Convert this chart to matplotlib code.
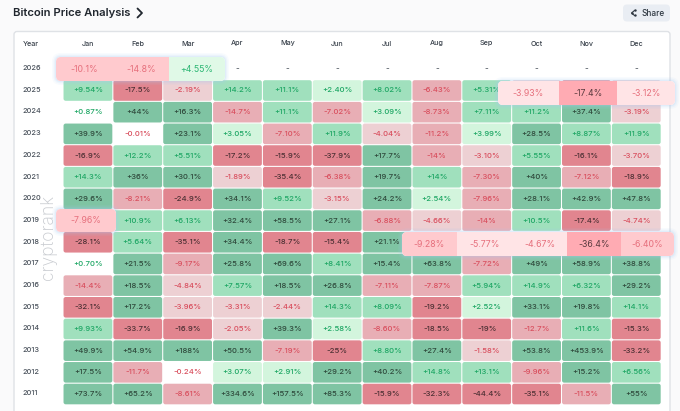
import matplotlib
matplotlib.use("Agg")
import matplotlib.pyplot as plt
from matplotlib.patches import FancyBboxPatch, Rectangle

plt.rcParams["font.family"] = ["Inter", "DejaVu Sans"]

MONTHS = ["Jan", "Feb", "Mar", "Apr", "May", "Jun", "Jul", "Aug", "Sep", "Oct", "Nov", "Dec"]
YEARS = [2026, 2025, 2024, 2023, 2022, 2021, 2020, 2019, 2018, 2017, 2016, 2015, 2014, 2013, 2012, 2011]

R2026 = ["-10.1", "-14.8", "+4.55", None, None, None, None, None, None, None, None, None]
R2025 = ["+9.54", "-17.5", "-2.19", "+14.2", "+11.1", "+2.40", "+8.02", "-6.43", "+5.31", "-3.93", "-17.4", "-3.12"]
R2024 = ["+0.87", "+44", "+16.3", "-14.7", "+11.1", "-7.02", "+3.09", "-8.73", "+7.11", "+11.2", "+37.4", "-3.19"]
R2023 = ["+39.9", "-0.01", "+23.1", "+3.05", "-7.10", "+11.9", "-4.04", "-11.2", "+3.99", "+28.5", "+8.87", "+11.9"]
R2022 = ["-16.9", "+12.2", "+5.51", "-17.2", "-15.9", "-37.9", "+17.7", "-14", "-3.10", "+5.55", "-16.1", "-3.70"]
R2021 = ["+14.3", "+36", "+30.1", "-1.89", "-35.4", "-6.38", "+19.7", "+14", "-7.30", "+40", "-7.12", "-18.9"]
R2020 = ["+29.6", "-8.21", "-24.9", "+34.1", "+9.52", "-3.15", "+24.2", "+2.54", "-7.96", "+28.1", "+42.9", "+47.8"]
R2019 = ["-7.96", "+10.9", "+6.13", "+32.4", "+58.5", "+27.1", "-6.88", "-4.66", "-14", "+10.5", "-17.4", "-4.74"]
R2018 = ["-28.1", "+5.64", "-35.1", "+34.4", "-18.7", "-15.4", "+21.1", "-9.28", "-5.77", "-4.67", "-36.4", "-6.40"]
R2017 = ["+0.70", "+21.5", "-9.17", "+25.8", "+69.6", "+8.41", "+15.4", "+63.8", "-7.72", "+49", "+58.9", "+38.8"]
R2016 = ["-14.4", "+18.5", "-4.84", "+7.57", "+18.5", "+26.8", "-7.11", "-7.87", "+5.94", "+14.9", "+6.32", "+29.2"]
R2015 = ["-32.1", "+17.2", "-3.96", "-3.31", "-2.44", "+14.3", "+8.09", "-19.2", "+2.52", "+33.1", "+19.8", "+14.1"]
R2014 = ["+9.93", "-33.7", "-16.9", "-2.05", "+39.3", "+2.58", "-8.60", "-18.5", "-19", "-12.7", "+11.6", "-15.3"]
R2013 = ["+49.9", "+54.9", "+188", "+50.5", "-7.19", "-25", "+8.80", "+27.4", "-1.58", "+53.8", "+453.9", "-33.2"]
R2012 = ["+17.5", "-11.7", "-0.24", "+3.07", "+2.91", "+29.2", "+40.2", "+14.8", "+13.1", "-9.96", "+15.2", "+6.56"]
R2011 = ["+73.7", "+65.2", "-8.61", "+334.6", "+157.5", "+85.3", "-15.9", "-32.3", "-44.4", "-35.1", "-11.5", "+55"]
ROWS = [R2026, R2025, R2024, R2023, R2022, R2021, R2020, R2019, R2018, R2017, R2016, R2015, R2014, R2013, R2012, R2011]

# enlarged bands: year, first month index, cell edges in x, top, bottom
BANDS = [
    (2026, 0, [56, 113, 169, 225], 57, 81),
    (2025, 9, [498, 559, 617, 675], 81, 105),
    (2019, 0, [56, 116], 209, 232),
    (2018, 7, [402, 457, 512, 567, 621, 674], 232, 256),
]

W, H = 680, 411
X0, PITCH_X = 63.0, 49.85
Y_2025, PITCH_Y = 90.5, 21.68


def cell_style(text):
    v = float(text)
    if v >= 15:
        return "#7fc4a3", "#2f4a3c"
    if v >= 5:
        return "#a0e0bd", "#1fa765"
    if v >= 1:
        return "#d3f5dd", "#1fa765"
    if v >= 0:
        return "#ffffff", "#1fa765"
    if v > -1:
        return "#ffffff", "#d9505f"
    if v > -6:
        return "#edd0d3", "#d9505f"
    if v > -15:
        return "#e8aeb5", "#d9505f"
    return "#e1858f", "#4d3034"


def band_style(text):
    v = float(text)
    if v >= 0:
        return "#e0f9e7", "#2bb673"
    if v > -6:
        return "#ffe4e6", "#e66f7c"
    if v > -15:
        return "#ffcace", "#e66f7c"
    return "#ffabb3", "#5a3a3e"


def rounded(ax, x0, y0, x1, y1, r, **kw):
    p = FancyBboxPatch((x0 + r, y0 + r), x1 - x0 - 2 * r, y1 - y0 - 2 * r,
                       boxstyle="round,pad=%f,rounding_size=%f" % (r, r), **kw)
    ax.add_patch(p)
    return p


fig = plt.figure(figsize=(W / 100, H / 100), dpi=100, facecolor="#fafafb")
ax = fig.add_axes([0, 0, 1, 1])
ax.set_xlim(0, W)
ax.set_ylim(H, 0)
ax.axis("off")

ax.text(13, 13, "Bitcoin Price Analysis", fontsize=8.1, fontweight="semibold", color="#20262e", va="center")
ax.plot([137.5, 142, 137.5], [8.5, 13, 17.5], color="#20262e", lw=1.3, solid_capstyle="round")

rounded(ax, 623, 4.5, 670, 21.5, 4, facecolor="#e9edf3", edgecolor="none")
ax.text(642, 13, "Share", fontsize=5.9, fontweight="medium", color="#2d3640", va="center")
ax.plot([634.5, 631.5, 634.5], [10.5, 13, 15.5], color="#2d3640", lw=0.8)
ax.scatter([634.5, 631.5, 634.5], [10.5, 13, 15.5], s=3, color="#2d3640", linewidths=0)

rounded(ax, 14, 31.5, 670, 440, 3, facecolor="#ffffff", edgecolor="#dfe2e6", linewidth=1.0)

ax.text(23, 43.5, "Year", fontsize=5.2, fontweight="medium", color="#3a424c", va="center")
for j, m in enumerate(MONTHS):
    ax.text(X0 + PITCH_X * (j + 0.5), 43.5, m, fontsize=5.2, fontweight="medium", color="#3a424c", va="center", ha="center")

# cells taken over by a band only keep their background, the band repeats the label
in_band = set()
for year, first, edges, top, bottom in BANDS:
    for k in range(len(edges) - 1):
        in_band.add((year, first + k))

for i, year in enumerate(YEARS):
    yc = Y_2025 + PITCH_Y * (i - 1)
    ax.text(22.5, yc - 0.7, str(year), fontsize=5.3, fontweight="medium", color="#4a525c", va="center")
    for j, val in enumerate(ROWS[i]):
        xc = X0 + PITCH_X * (j + 0.5)
        if val is None:
            ax.text(xc, yc, "-", fontsize=5.8, color="#4a525c", va="center", ha="center")
            continue
        bg, fg = cell_style(val)
        if year != 2026:
            rounded(ax, xc - 24.4, yc - 10.3, xc + 24.4, yc + 10.3, 2.2, facecolor=bg, edgecolor="none", zorder=2)
        if (year, j) not in in_band:
            ax.text(xc, yc, val + "%", fontsize=5.6, fontweight="medium", color=fg, va="center", ha="center", zorder=3)

ax.text(48.5, 237, "cryptorank", rotation=90, fontsize=12.6, fontweight="light", color="#c8cbd0", va="center", ha="center", zorder=4)

# enlarged rows sit on top of the table with a soft blue glow
for year, first, edges, top, bottom in BANDS:
    i = YEARS.index(year)
    for grow, alpha in [(4, 0.08), (2.5, 0.12), (1.2, 0.18)]:
        rounded(ax, edges[0] - grow, top - grow, edges[-1] + grow, bottom + grow, 5 + grow,
                facecolor="#a9cdf5", edgecolor="none", alpha=alpha, zorder=5)
    clip = rounded(ax, edges[0], top, edges[-1], bottom, 5, facecolor="#ffffff", edgecolor="none", zorder=6)
    for k in range(len(edges) - 1):
        val = ROWS[i][first + k]
        bg, fg = band_style(val)
        r = Rectangle((edges[k], top), edges[k + 1] - edges[k], bottom - top, facecolor=bg, edgecolor="none", zorder=7)
        ax.add_patch(r)
        r.set_clip_path(clip)
        ax.text((edges[k] + edges[k + 1]) / 2, (top + bottom) / 2, val + "%", fontsize=6.3, color=fg,
                va="center", ha="center", zorder=8)

fig.savefig("out.png", dpi=100, facecolor=fig.get_facecolor())
